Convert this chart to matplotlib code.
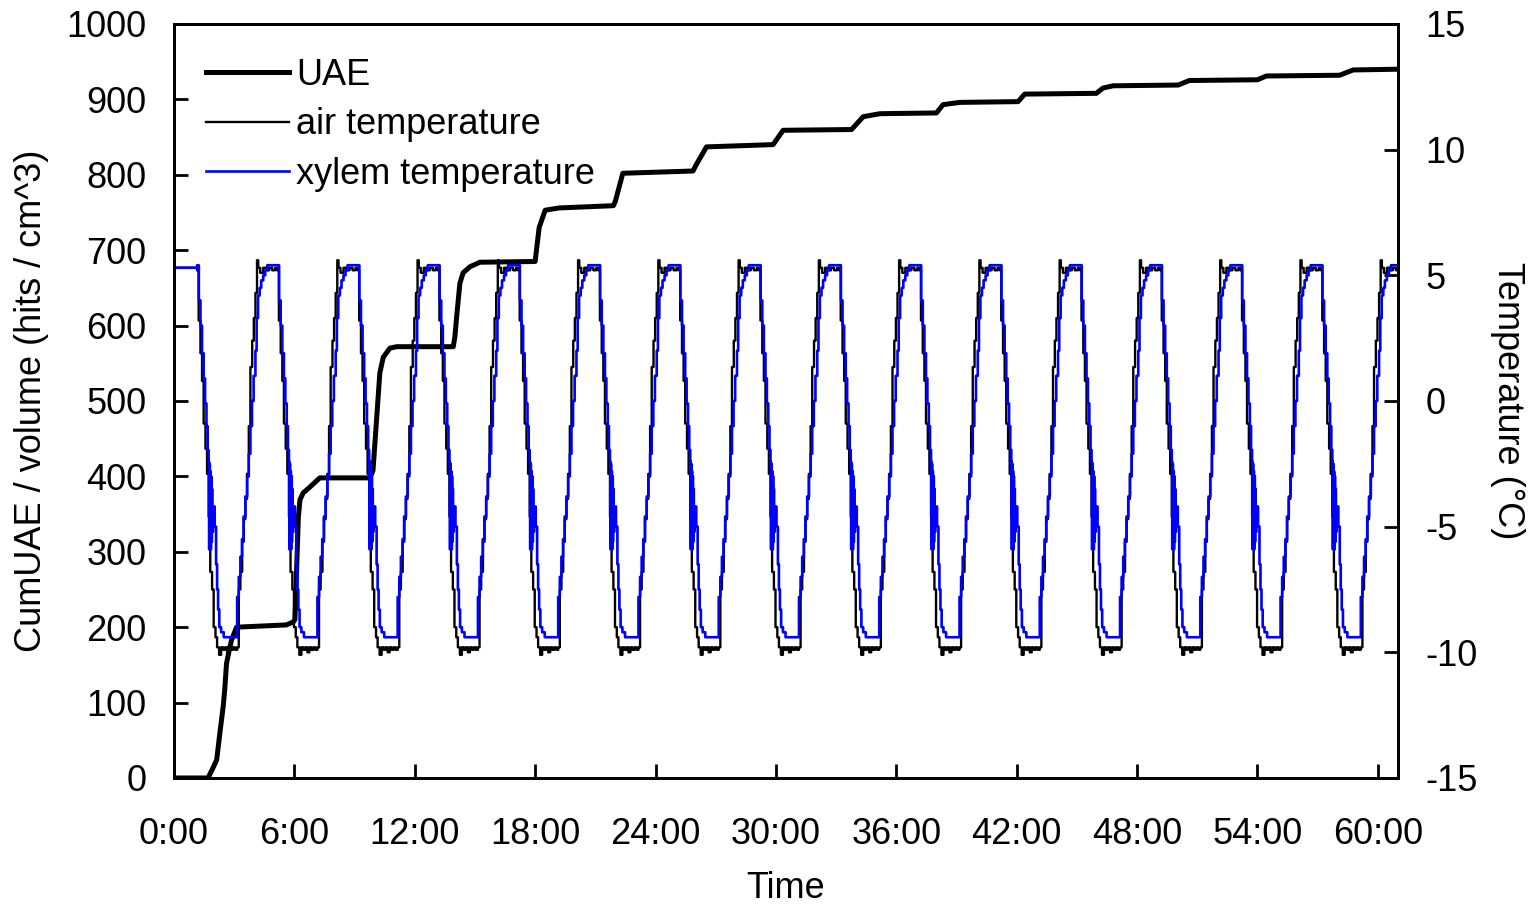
import numpy as np
import matplotlib.pyplot as plt

plt.rcParams['font.family'] = ['Liberation Sans', 'DejaVu Sans']
plt.rcParams['axes.unicode_minus'] = False

# ==========================
# Data
# ==========================
# cumulative UAE per volume, hits / cm^3 (time in hours)
uae_t = [0.0, 1.7, 1.94, 2.13, 2.29, 2.45, 2.53, 2.62, 2.76, 2.87, 3.12, 5.61, 5.95,
         6.03, 6.2, 6.28, 6.44, 6.78, 7.27, 9.77, 9.92, 10.26, 10.43, 10.76, 11.1,
         13.92, 14.0, 14.09, 14.25, 14.41, 14.75, 15.25, 18.0, 18.2, 18.5, 19.2,
         21.9, 22.0, 22.37, 25.87, 26.0, 26.54, 29.86, 30.36, 33.77, 34.35, 35.18,
         38.0, 38.33, 39.16, 42.07, 42.4, 45.97, 46.3, 46.8, 50.05, 50.6, 54.0,
         54.44, 58.1, 58.76, 61.0]
uae_val = [0, 0, 13, 24, 60, 94, 117, 152, 170, 183, 200, 203, 207,
           210, 346, 369, 378, 386, 398, 398, 408, 537, 558, 570, 572,
           572, 585, 612, 656, 670, 678, 684, 685, 730, 753, 756,
           759, 765, 802, 805, 812, 837, 840, 859, 860, 877, 881,
           882, 893, 896, 897, 907, 908, 915, 918, 919, 925, 926,
           931, 932, 939, 940]

# start of each cooling ramp (h), 4 h freeze-thaw cycles
cycle_start = [1.15, 5.15, 9.15, 13.15, 17.15, 21.15, 25.15, 29.15,
               33.15, 37.15, 41.15, 45.15, 49.15, 53.15, 57.15]
t_end = 61.0
temp_init = 5.3

# one cycle of air temperature (offset from ramp start, h ; degC)
air_off = [0.0, 0.08, 0.17, 0.25, 0.33, 0.42, 0.5, 0.58, 0.66, 0.75, 0.83, 0.92,
           1.0, 1.1, 1.2, 1.3, 1.4, 1.5, 1.6, 1.7, 1.8, 1.9, 2.0, 2.08, 2.16,
           2.25, 2.33, 2.41, 2.49, 2.58, 2.66, 2.75, 2.83, 2.91, 2.99, 3.05,
           3.15, 3.3, 3.45, 3.6, 3.75, 3.9]
air_temp = [5.2, 3.2, 1.9, 0.8, -0.9, -1.9, -2.9, -4.6, -6.8, -7.5, -9.0, -9.4,
            -9.8, -10.1, -9.8, -9.9, -9.8, -10.0, -9.8, -9.9, -9.8, -9.9, -9.8, -7.5, -6.8,
            -5.6, -4.7, -3.9, -2.9, -1.0, 1.35, 2.4, 3.3, 4.3, 5.6, 5.3,
            5.1, 5.3, 5.2, 5.3, 5.2, 5.3]

# one cycle of xylem temperature (offset from ramp start, h ; degC)
xyl_off = [0.0, 0.09, 0.17, 0.25, 0.33, 0.4, 0.47, 0.53, 0.58, 0.6, 0.62, 0.64,
           0.66, 0.68, 0.7, 0.72, 0.74, 0.76, 0.8, 0.88, 0.95, 1.0, 1.05, 1.11,
           1.2, 1.33, 2.0, 2.08, 2.16, 2.24, 2.32, 2.41, 2.5, 2.58, 2.66, 2.74,
           2.82, 2.91, 2.97, 3.04, 3.12, 3.2, 3.3, 3.4, 3.5]
xyl_temp = [5.4, 4.0, 3.0, 1.9, 0.9, -0.1, -1.0, -1.95, -2.4, -5.9, -2.5, -5.5,
            -2.8, -5.9, -3.0, -5.6, -3.5, -5.2, -4.2, -5.0, -6.5, -7.5, -8.3, -9.0,
            -9.2, -9.4, -7.8, -7.0, -6.2, -5.5, -4.6, -3.8, -3.0, -2.1, -1.0, 0.0,
            1.0, 2.0, 3.3, 4.2, 4.5, 4.8, 5.0, 5.2, 5.4]


def build(offsets, values):
    t = [0.0]
    v = [temp_init]
    for s in cycle_start:
        for o, val in zip(offsets, values):
            if s + o <= t_end:
                t.append(s + o)
                v.append(val)
    t.append(t_end)
    v.append(v[-1])
    return np.array(t), np.array(v)


air_t, air_v = build(air_off, air_temp)
xyl_t, xyl_v = build(xyl_off, xyl_temp)

# ==========================
# Plot
# ==========================
fs = 26
fig = plt.figure(figsize=(15.34, 9.08), dpi=100)
ax1 = fig.add_axes([0.1134, 0.1432, 0.7979, 0.8304])
ax2 = ax1.twinx()

l_uae, = ax1.plot(uae_t, uae_val, color='black', lw=3.6, label='UAE',
                  solid_joinstyle='round')
l_air, = ax2.plot(air_t, air_v, color='black', lw=1.7, drawstyle='steps-post',
                  label='air temperature')
l_xyl, = ax2.plot(xyl_t, xyl_v, color='#0000ff', lw=1.9, drawstyle='steps-post',
                  label='xylem temperature')

ax1.set_xlim(0, 61)
ax1.set_ylim(0, 1000)
ax2.set_ylim(-15, 15)

xt = np.arange(0, 61, 6)
ax1.set_xticks(xt)
ax1.set_xticklabels([f"{int(h)}:00" for h in xt])
ax1.set_yticks(np.arange(0, 1001, 100))
ax2.set_yticks(np.arange(-15, 16, 5))

for ax in (ax1, ax2):
    for sp in ax.spines.values():
        sp.set_linewidth(2.0)
    ax.tick_params(direction='in', length=10, width=2.0, labelsize=fs, pad=20)
ax1.tick_params(axis='x', pad=28)

ax1.set_xlabel('Time', fontsize=fs, labelpad=14)
ax1.set_ylabel('CumUAE / volume (hits / cm^3)', fontsize=fs, labelpad=12)
ax2.set_ylabel('Temperature (°C)', fontsize=fs, rotation=270, labelpad=34)

ax2.legend(handles=[l_uae, l_air, l_xyl], loc='upper left', frameon=False,
           fontsize=fs, handlelength=2.3, handletextpad=0.2, labelspacing=0.4,
           borderaxespad=0.0, bbox_to_anchor=(0.014, 0.974))

fig.savefig('out.png', dpi=100)
